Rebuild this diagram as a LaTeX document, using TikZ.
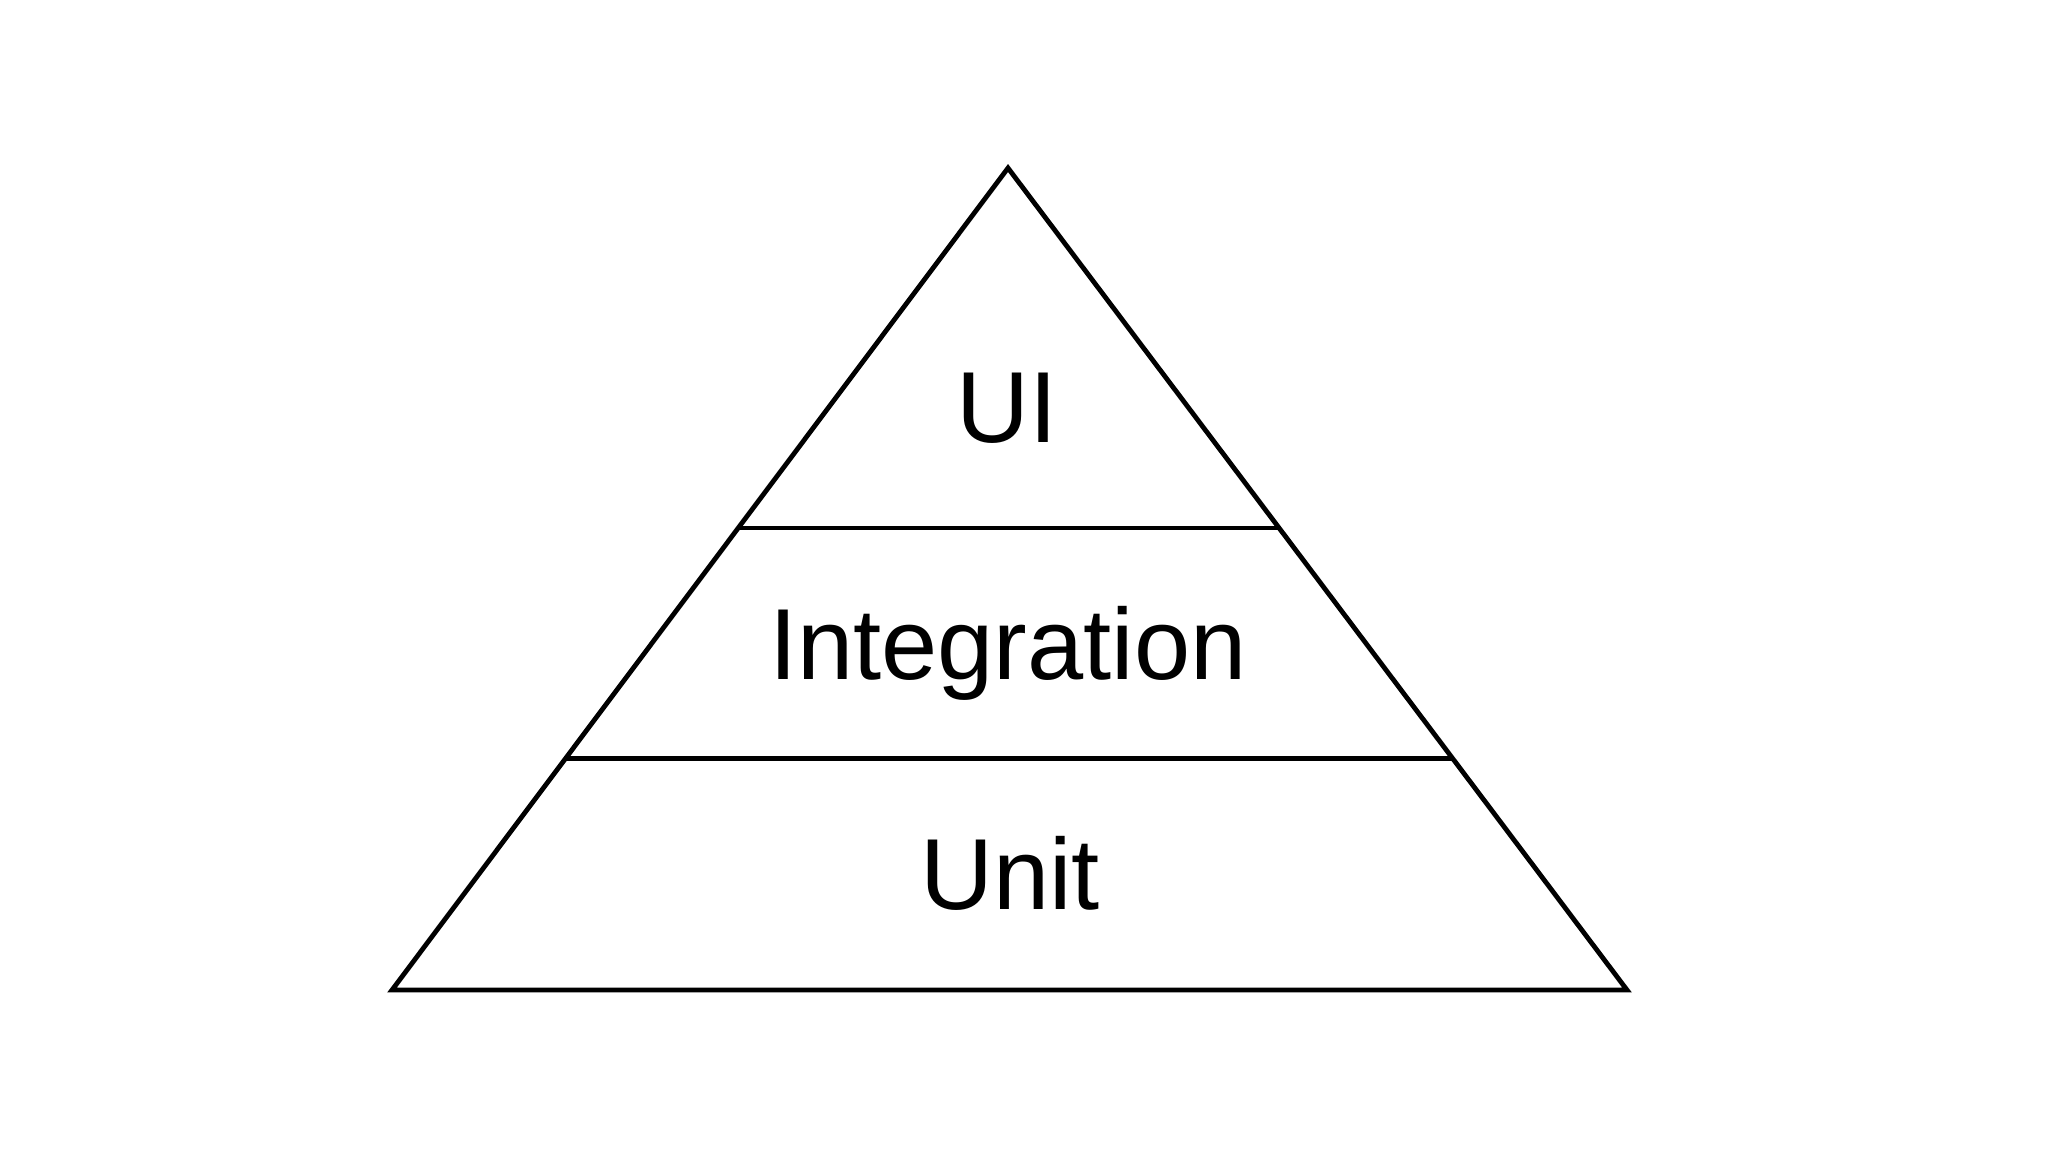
\documentclass[tikz,border=0pt]{standalone}
\usepackage{fontspec}
\setmainfont{Liberation Sans}
\usetikzlibrary{calc}
\begin{document}
\begin{tikzpicture}[x=0.5pt,y=-0.5pt,
  edge/.style={line width=2.4pt,line join=miter,line cap=butt},
  tierlabel/.style={anchor=base,inner sep=0pt,font=\fontsize{50.5pt}{60pt}\selectfont}]
\useasboundingbox (0,0) rectangle (2048,1152);
\fill[white] (0,0) rectangle (2048,1152);
\coordinate (apex) at (1008,168);
\coordinate (bl) at (392,990);
\coordinate (br) at (1627,990);
\coordinate (d1l) at ($(apex)!0.438!(bl)$);
\coordinate (d1r) at ($(apex)!0.438!(br)$);
\coordinate (d2l) at ($(apex)!0.718!(bl)$);
\coordinate (d2r) at ($(apex)!0.718!(br)$);
\draw[edge] (apex) -- (bl) -- (br) -- cycle;
\draw[edge] (d1l) -- (d1r);
\draw[edge] (d2l) -- (d2r);
\node[tierlabel] (ui) at (1007,442) {UI};
\node[tierlabel] (integration) at (1008,679) {Integration};
\node[tierlabel] (unit) at (1010,909) {Unit};
\end{tikzpicture}
\end{document}
